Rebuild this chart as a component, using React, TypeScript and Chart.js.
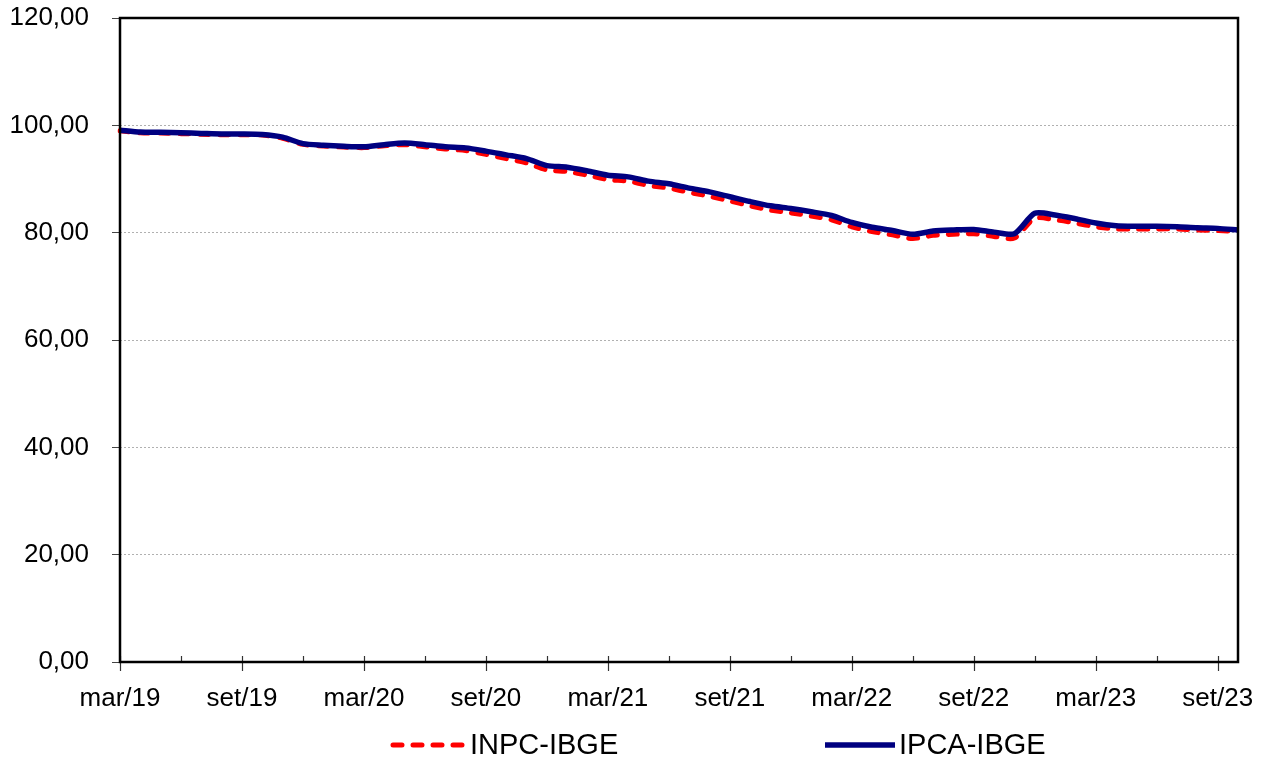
import React, { useEffect, useRef } from "react";
import { Chart, registerables } from "chart.js";

Chart.register(...registerables);

const monthNames = ["jan", "fev", "mar", "abr", "mai", "jun", "jul", "ago", "set", "out", "nov", "dez"];

// months from mar/19 to out/23
const months: string[] = [];
for (let y = 2019; y <= 2023; y++) {
  for (let m = 0; m < 12; m++) {
    if (y === 2019 && m < 2) continue;
    if (y === 2023 && m > 9) continue;
    months.push(`${monthNames[m]}/${String(y).slice(2)}`);
  }
}

const inpcValues = [
  99.0, 98.6, 98.55, 98.45, 98.35, 98.25, 98.25, 98.2, 97.6, 96.45,
  96.15, 95.95, 95.85, 96.2, 96.4, 96.0, 95.6, 95.3, 94.6, 93.8,
  93.0, 91.7, 91.4, 90.7, 89.9, 89.6, 88.8, 88.3, 87.5, 86.8,
  85.9, 85.0, 84.2, 83.7, 83.1, 82.4, 81.1, 80.2, 79.6, 78.9,
  79.5, 79.7, 79.8, 79.3, 79.0, 82.7, 82.4, 81.8, 81.1, 80.7,
  80.7, 80.7, 80.7, 80.5, 80.4, 80.2,
];

const ipcaValues = [
  99.1, 98.75, 98.7, 98.6, 98.5, 98.4, 98.4, 98.3, 97.8, 96.6,
  96.3, 96.1, 96.0, 96.4, 96.7, 96.4, 96.0, 95.8, 95.2, 94.5,
  93.8, 92.5, 92.2, 91.5, 90.7, 90.4, 89.6, 89.1, 88.3, 87.6,
  86.7, 85.8, 85.0, 84.5, 83.9, 83.2, 81.9, 81.0, 80.4, 79.7,
  80.3, 80.5, 80.6, 80.1, 79.8, 83.6, 83.3, 82.6, 81.8, 81.3,
  81.2, 81.2, 81.1, 80.9, 80.8, 80.5,
];

const seriesLabels = ["INPC-IBGE", "IPCA-IBGE"];
const yTicks = [0, 20, 40, 60, 80, 100, 120];

const FONT = '"Liberation Sans", Arial, sans-serif';

const framePlugin = {
  id: "frame",
  afterDraw(chart: any) {
    const { ctx, chartArea, scales } = chart;
    const { left, right, top, bottom } = chartArea;
    const x = scales.x;
    ctx.save();
    // x tick marks
    ctx.strokeStyle = "#333";
    ctx.lineWidth = 1.2;
    for (let i = 0; i < months.length; i += 3) {
      const px = Math.round(x.getPixelForValue(i)) + 0.5;
      ctx.beginPath();
      ctx.moveTo(px, bottom - 6);
      ctx.lineTo(px, i % 6 === 0 ? bottom + 9 : bottom);
      ctx.stroke();
    }
    // frame
    ctx.strokeStyle = "#000";
    ctx.lineWidth = 2.5;
    ctx.strokeRect(left, top, right - left, bottom - top);

    // legend
    const items = [
      { x0: left + 273, x1: left + 345, tx: left + 350 },
      { x0: left + 705, x1: left + 775, tx: left + 779 },
    ];
    const ly = 745;
    chart.data.datasets.forEach((ds: any, i: number) => {
      const it = items[i];
      ctx.save();
      ctx.strokeStyle = ds.borderColor;
      ctx.lineWidth = ds.borderWidth;
      ctx.lineCap = ds.borderCapStyle || "butt";
      ctx.setLineDash(ds.borderDash || []);
      ctx.beginPath();
      ctx.moveTo(it.x0, ly);
      ctx.lineTo(it.x1, ly);
      ctx.stroke();
      ctx.restore();
      ctx.fillStyle = "#000";
      ctx.font = `29px ${FONT}`;
      ctx.textBaseline = "middle";
      ctx.textAlign = "left";
      ctx.fillText(ds.label, it.tx, ly + 1);
    });
    ctx.restore();
  },
};

export default function App() {
  const ref = useRef<HTMLCanvasElement | null>(null);

  useEffect(() => {
    if (!ref.current) return;
    const chart = new Chart(ref.current, {
      type: "line",
      data: {
        labels: months,
        datasets: [
          {
            label: seriesLabels[0],
            data: inpcValues,
            borderColor: "#FF0000",
            backgroundColor: "#FF0000",
            borderWidth: 5,
            borderDash: [9, 11],
            borderCapStyle: "round",
            pointRadius: 0,
            tension: 0.25,
            order: 2,
          },
          {
            label: seriesLabels[1],
            data: ipcaValues,
            borderColor: "#000080",
            backgroundColor: "#000080",
            borderWidth: 5.5,
            pointRadius: 0,
            tension: 0.25,
            order: 1,
          },
        ],
      },
      options: {
        animation: false,
        responsive: false,
        maintainAspectRatio: false,
        layout: { padding: { top: 18, right: 30, bottom: 0, left: 0 } },
        plugins: {
          legend: { display: false },
          title: { display: false },
          tooltip: { enabled: false },
        },
        scales: {
          x: {
            type: "category",
            offset: false,
            grid: { display: true, drawOnChartArea: false, drawTicks: false, color: "transparent" },
            border: { display: false },
            ticks: {
              autoSkip: false,
              maxRotation: 0,
              minRotation: 0,
              padding: 21,
              color: "#000",
              font: { family: FONT, size: 26 },
              callback: (_v: any, i: number) => (i % 6 === 0 ? months[i] : ""),
            },
            afterFit: (scale: any) => {
              scale.height = 102;
              scale.paddingLeft = 0;
              scale.paddingRight = 0;
            },
          },
          y: {
            min: 0,
            max: 120,
            afterBuildTicks: (scale: any) => {
              scale.ticks = yTicks.map((v) => ({ value: v }));
            },
            grid: {
              color: "#b0b0b0",
              lineWidth: 1,
              tickColor: "#444",
              tickLength: 8,
            },
            border: { display: false, dash: [2, 2] },
            ticks: {
              padding: 23,
              color: "#000",
              font: { family: FONT, size: 26 },
              callback: (v: any) => Number(v).toFixed(2).replace(".", ","),
            },
            afterFit: (scale: any) => {
              scale.width = 120;
              scale.paddingTop = 0;
              scale.paddingBottom = 0;
            },
          },
        },
      },
      plugins: [framePlugin],
    });
    return () => chart.destroy();
  }, []);

  return (
    <div style={{ position: "fixed", left: 0, top: 0, width: 1268, height: 764, background: "#fff" }}>
      <canvas ref={ref} width={1268} height={764} style={{ width: 1268, height: 764 }} />
    </div>
  );
}
